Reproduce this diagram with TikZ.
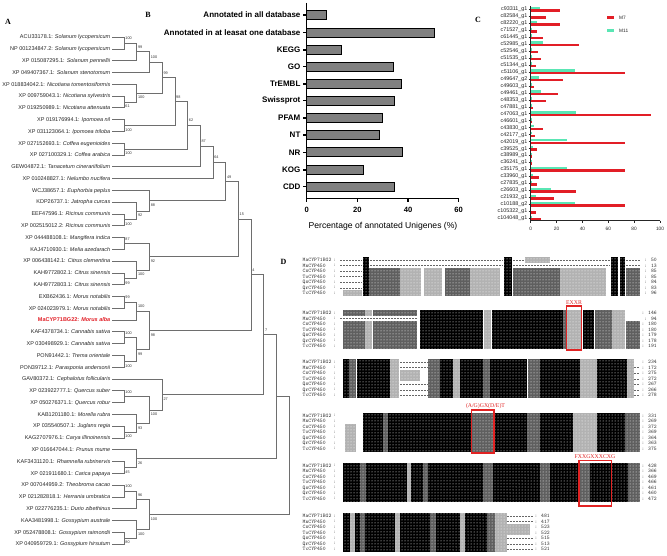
\documentclass[tikz,border=0pt]{standalone}
\usepackage{fontspec}
\setmainfont{Liberation Serif}
\setsansfont{Liberation Sans}
\usetikzlibrary{calc,patterns}
\definecolor{mred}{RGB}{226,30,38}
\definecolor{mmint}{RGB}{90,230,180}
\definecolor{treeg}{RGB}{110,110,110}
\definecolor{dg}{RGB}{95,95,95}
\definecolor{lg}{RGB}{178,178,178}
\definecolor{boxred}{RGB}{225,35,35}
\definecolor{barg}{RGB}{128,128,128}
\newcommand\clade[6]{%
  \coordinate (#1x) at (#2,0);
  \coordinate (#1m) at ($(#3)!0.5!(#4)$);
  \coordinate (#1) at (#1x |- #1m);
  \draw[br] (#3) -- (#3 -| #1x) -- (#4 -| #1x) -- (#4);
  \node[bs] (#1lab) at ([xshift=1.2pt,yshift=#6]#1) {#5};
}
\newcommand\sg[6]{\fill[#6] (#4,{#1+5.55*#2-2.8}) rectangle (#5,{#1+5.55*#3+2.8});}
\newcommand\dsh[4]{\draw[dashrow] (#3,{#1+5.55*#2}) -- (#4,{#1+5.55*#2});}
\newcommand\tex[2]{\fill[pattern=dots,pattern color=white] (340,{#1-2.8}) rectangle (#2,{#1+5.55*6+2.8});}
\newcommand\blk[9]{%
  \foreach \nm/\cn [count=\r from 0] in {MaCYP71BG2/#3,MnCYP450/#4,CsCYP450/#5,ToCYP450/#6,QsCYP450/#7,QrCYP450/#8,TcCYP450/#9}{
    \node[rowlab] (rl-#1-\r) at (302.5,{#1+5.55*\r}) {\nm};
    \node[rowlab] (rc-#1-\r) at (333,{#1+5.55*\r}) {:};
    \node[rowlab,anchor=east] (rn-#1-\r) at (#2,{#1+5.55*\r}) {: \cn};
  }}
\begin{document}
\begin{tikzpicture}[x=1pt,y=-1pt,
  leaf/.style={anchor=base east,inner sep=0pt,font=\sffamily\fontsize{5.5}{6}\selectfont,text=black!85},
  bs/.style={anchor=west,inner sep=0pt,font=\sffamily\fontsize{3.8}{4}\selectfont,text=black!80},
  br/.style={draw=treeg,line width=0.55pt},
  plab/.style={inner sep=0pt,font=\rmfamily\bfseries\fontsize{8}{9}\selectfont},
  catB/.style={anchor=east,inner sep=0pt,font=\sffamily\bfseries\fontsize{8}{9}\selectfont},
  axB/.style={line width=1.1pt},
  barB/.style={fill=barg,draw=black,line width=1pt},
  catC/.style={anchor=east,inner sep=0pt,font=\sffamily\fontsize{5.4}{6}\selectfont,text=black!85},
  axC/.style={line width=0.7pt,black!85},
  tickC/.style={inner sep=0pt,font=\sffamily\fontsize{4.8}{5}\selectfont,text=black!85},
  rowlab/.style={anchor=west,inner sep=0pt,font=\ttfamily\fontsize{5.4}{5.5}\selectfont,text=black!80},
  dashrow/.style={draw=black!60,line width=0.3pt,dash pattern=on 1.5pt off 1.5pt},
  mot/.style={inner sep=0pt,font=\rmfamily\fontsize{5.8}{6}\selectfont,text=boxred},
  motbox/.style={draw=boxred,line width=1.1pt}]
\path[use as bounding box] (0,0) rectangle (667,556);
\fill[white] (0,0) rectangle (667,556);

%================ Panel A
\node[plab] (pA) at (8,22) {A};
\foreach \acc/\sp [count=\i from 0] in {
ACU33178.1/Solanum lycopersicum,
NP 001234847.2/Solanum lycopersicum,
XP 015087295.1/Solanum pennellii,
XP 049407367.1/Solanum stenotomum,
XP 018834042.1/Nicotiana tomentosiformis,
XP 009759043.1/Nicotiana sylvestris,
XP 019250989.1/Nicotiana attenuata,
XP 019176994.1/Ipomoea nil,
XP 031123064.1/Ipomoea triloba,
XP 027152693.1/Coffea eugenioides,
XP 027100329.1/Coffea arabica,
GEW04872.1/Tanacetum cinerariifolium,
XP 010248827.1/Nelumbo nucifera,
WCJ38657.1/Euphorbia peplus,
KDP26737.1/Jatropha curcas,
EEF47596.1/Ricinus communis,
XP 002515012.2/Ricinus communis,
XP 044488108.1/Mangifera indica,
KAJ4710930.1/Melia azedarach,
XP 006438142.1/Citrus clementina,
KAH9772802.1/Citrus sinensis,
KAH9772803.1/Citrus sinensis,
EXB62436.1/Morus notabilis,
XP 024023979.1/Morus notabilis,
MaCYP71BG22/Morus alba,
KAF4378734.1/Cannabis sativa,
XP 030498929.1/Cannabis sativa,
PON91442.1/Trema orientale,
PON39712.1/Parasponia andersonii,
GAV80372.1/Cephalotus follicularis,
XP 023922777.1/Quercus suber,
XP 050276371.1/Quercus robur,
KAB1201180.1/Morella rubra,
XP 035540507.1/Juglans regia,
KAG2707976.1/Carya illinoinensis,
XP 016647044.1/Prunus mume,
KAF3431120.1/Rhamnella rubrinervis,
XP 021911680.1/Carica papaya,
XP 007044959.2/Theobroma cacao,
XP 021282818.1/Herrania umbratica,
XP 022776235.1/Durio zibethinus,
KAA3481998.1/Gossypium australe,
XP 052478808.1/Gossypium raimondii,
XP 040959729.1/Gossypium hirsutum}{
  \coordinate (L\i) at (112,{37+11.79*\i});
  \ifnum\i=24
    \node[leaf,text=mred,font=\sffamily\bfseries\fontsize{5.5}{6}\selectfont] (t\i) at (110.5,{37+11.79*\i+1.9}) {\acc: \textit{\sp}};
  \else
    \node[leaf] (t\i) at (110.5,{37+11.79*\i+1.9}) {\acc: \textit{\sp}};
  \fi
}
\def\U{4.6pt}\def\D{-4.6pt}
\clade{a}{124}{L0}{L1}{100}{\U}
\clade{b}{136.7}{a}{L2}{99}{\U}
\clade{sol}{149.4}{b}{L3}{100}{\U}
\clade{n56}{124}{L5}{L6}{61}{\D}
\clade{nic}{136.7}{L4}{n56}{100}{\D}
\clade{ca}{162.1}{sol}{nic}{99}{\U}
\clade{ipo}{124}{L7}{L8}{100}{\D}
\clade{cb}{174.8}{ca}{ipo}{98}{\U}
\clade{cof}{124}{L9}{L10}{100}{\D}
\clade{cc}{187.5}{cb}{cof}{62}{\U}
\clade{cd}{200.2}{cc}{L11}{87}{\U}
\clade{ce}{212.9}{cd}{L12}{64}{\U}
\clade{nab}{124}{L15}{L16}{100}{\D}
\clade{nac}{136.7}{L14}{nab}{92}{\D}
\clade{eup}{149.4}{L13}{nac}{88}{\D}
\clade{cf}{225.6}{ce}{eup}{49}{\U}
\clade{nba}{124}{L17}{L18}{87}{\U}
\clade{nbb}{124}{L20}{L21}{99}{\D}
\clade{nbc}{136.7}{L19}{nbb}{100}{\D}
\clade{sap}{149.4}{nba}{nbc}{92}{\D}
\clade{cg}{238.3}{cf}{sap}{15}{\U}
\clade{nca}{124}{L22}{L23}{99}{\U}
\clade{ncb}{136.7}{nca}{L24}{100}{\U}
\clade{ncc}{124}{L25}{L26}{100}{\U}
\clade{ncd}{124}{L27}{L28}{100}{\D}
\clade{nce}{136.7}{ncc}{ncd}{99}{\D}
\clade{ros}{149.4}{ncb}{nce}{98}{\D}
\clade{ch}{251}{cg}{ros}{4}{\U}
\clade{nda}{124}{L30}{L31}{100}{\U}
\clade{ndb}{124}{L33}{L34}{100}{\D}
\clade{ndc}{136.7}{L32}{ndb}{93}{\D}
\clade{fag}{149.4}{nda}{ndc}{100}{\D}
\clade{ci}{162.1}{L29}{fag}{27}{\D}
\clade{cj}{263.7}{ch}{ci}{7}{\U}
\clade{nea}{124}{L36}{L37}{45}{\D}
\clade{neb}{136.7}{L35}{nea}{26}{\D}
\clade{ck}{276.4}{cj}{neb}{}{\U}
\clade{nfa}{124}{L38}{L39}{100}{\U}
\clade{nfb}{136.7}{nfa}{L40}{96}{\U}
\clade{nfc}{124}{L42}{L43}{80}{\D}
\clade{nfd}{136.7}{L41}{nfc}{100}{\D}
\clade{mal}{149.4}{nfb}{nfd}{100}{\D}
\clade{root}{289.1}{ck}{mal}{}{\U}

%================ Panel B
\node[plab] (pB) at (148,15) {B};
\draw[axB] (306.7,3) -- (306.7,198.3) -- (458.7,198.3);
\foreach \lab/\v/\yy [count=\k] in {
Annotated in all database/7.8/15,
Annotated in at leasat one database/50.5/32.7,
KEGG/13.8/50,
GO/34.2/66.7,
TrEMBL/37.3/84,
Swissprot/34.6/100.7,
PFAM/29.8/118,
NT/28.6/135,
NR/37.8/152.3,
KOG/22.4/170,
CDD/34.6/186.7}{
  \node[catB] (cb\k) at (300.6,\yy) {\lab};
  \draw[axB] (303,\yy) -- (306.7,\yy);
  \draw[barB] (306.7,{\yy-4.6}) rectangle ({306.7+2.533*\v},{\yy+4.6});
}
\foreach \t [count=\j from 0] in {0,20,40,60}{
  \draw[axB] ({306.7+2.533*\t},198.3) -- ++(0,3.4);
  \node[inner sep=0pt,font=\sffamily\bfseries\fontsize{7.6}{8}\selectfont] (tb\j) at ({306.7+2.533*\t},210) {\t};
}
\node[inner sep=0pt,font=\sffamily\fontsize{8.6}{9}\selectfont] (xtB) at (383,226) {Percentage of annotated Unigenes (\%)};

%================ Panel C
\node[plab] (pC) at (478,20) {C};
\foreach \lab/\a/\b [count=\k from 0] in {
c93311\_g1/7.2/22.7, c82584\_g1/0/11.6, c82220\_g1/5.2/22.7, c71527\_g1/0.5/4.6,
c61445\_g1/0.8/9.8, c52985\_g1/9.3/37, c52546\_g1/0.5/5.9, c51535\_g1/0.5/7.7,
c51344\_g1/0.5/3.9, c51106\_g1/34.3/73, c49647\_g2/6.4/24.7, c49603\_g1/0.5/2.3,
c49461\_g1/8/21.4, c48353\_g1/0.5/11.6, c47881\_g1/0.5/2, c47063\_g1/34.8/92.8,
c46601\_g1/0.5/1, c43830\_g1/2.6/9.8, c42177\_g1/1.3/3.4, c42019\_g1/28.4/73,
c39525\_g1/2/5.2, c38989\_g1/0.5/1.3, c36241\_g1/0.3/0.8, c35175\_g1/28.4/73,
c33960\_g1/1.5/6.7, c27835\_g1/0.5/5.2, c26603\_g1/15.7/34.8, c21932\_g1/3.9/17.8,
c10188\_g2/34.3/73, c105322\_g1/0/3.9, c104048\_g1/0.3/8}{
  \node[catC] (cc\k) at (527.6,{9.3+6.97*\k}) {\lab};
  \draw[axC] (528.6,{9.3+6.97*\k}) -- (530.7,{9.3+6.97*\k});
  \fill[mmint] (530.7,{9.3+6.97*\k-2.7}) rectangle ({530.7+1.293*\a},{9.3+6.97*\k-0.3});
  \fill[mred] (530.7,{9.3+6.97*\k-0.2}) rectangle ({530.7+1.293*\b},{9.3+6.97*\k+2.3});
}
\draw[axC] (530.7,6) -- (530.7,220.7) -- (660,220.7);
\foreach \t [count=\j from 0] in {0,20,40,60,80,100}{
  \draw[axC] ({530.7+1.293*\t},220.7) -- ++(0,2);
  \node[tickC] (tc\j) at ({530.7+1.293*\t},229.3) {\t};
}
\fill[mred] (606.5,16) rectangle (614,19);
\node[tickC,anchor=west] (lgM7) at (619,17.5) {M7};
\fill[mmint] (606.5,29.3) rectangle (614,32.3);
\node[tickC,anchor=west] (lgM11) at (619,30.8) {M11};

%================ Panel D
\node[plab] (pD) at (283.5,262) {D};
% block 1
\sg{260}{0}{6}{363}{369}{black}
\sg{260}{2}{6}{369}{400}{dg}
\sg{260}{2}{6}{400}{421}{lg}
\sg{260}{2}{6}{424}{442}{lg}
\sg{260}{2}{6}{445}{470}{dg}
\sg{260}{2}{6}{470}{500}{lg}
\sg{260}{0}{6}{504}{512}{black}
\sg{260}{2}{6}{513}{560}{dg}
\sg{260}{0}{0}{525}{550}{lg}
\sg{260}{2}{6}{560}{606}{lg}
\sg{260}{0}{6}{611}{618}{black}
\sg{260}{0}{6}{620}{625}{black}
\sg{260}{2}{6}{626}{640}{dg}
\sg{260}{6}{6}{343}{362}{lg}
\tex{260}{640}
\foreach \r in {0,1}{\dsh{260}{\r}{340}{362}\dsh{260}{\r}{370}{503}\dsh{260}{\r}{626}{640}}
\dsh{260}{0}{513}{524}\dsh{260}{0}{551}{610}\dsh{260}{1}{513}{610}
\foreach \r in {2,3,4,5}{\dsh{260}{\r}{340}{362}}
\blk{260}{657}{50}{13}{85}{85}{84}{83}{96}
% block 2
\sg{313}{0}{0}{343}{365}{dg}\sg{313}{2}{6}{343}{365}{dg}
\sg{313}{0}{0}{365}{372}{lg}\sg{313}{2}{6}{365}{372}{lg}
\sg{313}{0}{0}{373}{417}{dg}\sg{313}{2}{6}{373}{417}{dg}
\sg{313}{0}{6}{420}{483}{black}
\sg{313}{0}{6}{484}{491}{lg}
\sg{313}{0}{6}{492}{563}{black}
\sg{313}{0}{6}{563}{567}{dg}
\sg{313}{0}{6}{567}{582}{lg}
\sg{313}{0}{6}{583}{594}{black}
\sg{313}{0}{6}{595}{612}{dg}
\sg{313}{0}{6}{612}{625}{lg}
\sg{313}{2}{6}{626}{640}{dg}
\tex{313}{640}
\dsh{313}{1}{340}{418}
\blk{313}{657}{146}{94}{180}{180}{179}{178}{191}
% block 3
\sg{362}{0}{6}{343}{349}{black}
\sg{362}{0}{6}{349}{356}{dg}
\sg{362}{0}{6}{357}{390}{black}
\sg{362}{0}{6}{390}{399}{lg}
\sg{362}{2}{3}{400}{420}{lg}
\sg{362}{0}{6}{428}{440}{dg}
\sg{362}{0}{6}{440}{453}{black}
\sg{362}{0}{6}{453}{460}{lg}
\sg{362}{0}{6}{460}{483}{black}
\sg{362}{0}{6}{483}{490}{dg}
\sg{362}{0}{6}{490}{527}{black}
\sg{362}{0}{6}{528}{540}{dg}
\sg{362}{0}{6}{540}{580}{black}
\sg{362}{0}{6}{580}{597}{lg}
\sg{362}{0}{6}{597}{627}{black}
\sg{362}{0}{6}{627}{634}{lg}
\tex{362}{640}
\foreach \r in {0,1,4,5,6}{\dsh{362}{\r}{400}{428}}
\foreach \r in {1,2,3,4,5,6}{\dsh{362}{\r}{634}{640}}
\blk{362}{657}{234}{172}{275}{272}{267}{266}{278}
% block 4
\sg{415.5}{2}{6}{345}{356}{lg}
\sg{415.5}{0}{6}{363}{383}{black}
\sg{415.5}{0}{6}{383}{388}{dg}
\sg{415.5}{0}{6}{388}{472}{black}
\sg{415.5}{0}{6}{472}{494}{dg}
\sg{415.5}{0}{6}{495}{527}{black}
\sg{415.5}{0}{6}{527}{540}{dg}
\sg{415.5}{0}{6}{540}{573}{black}
\sg{415.5}{0}{6}{573}{597}{lg}
\sg{415.5}{0}{6}{597}{625}{black}
\sg{415.5}{0}{6}{625}{640}{dg}
\tex{415.5}{640}
\blk{415.5}{657}{331}{269}{372}{369}{364}{363}{375}
% block 5
\sg{465.5}{0}{6}{343}{360}{black}
\sg{465.5}{0}{6}{360}{366}{dg}
\sg{465.5}{0}{6}{366}{407}{black}
\sg{465.5}{0}{6}{407}{411}{lg}
\sg{465.5}{0}{6}{411}{423}{black}
\sg{465.5}{0}{6}{423}{428}{dg}
\sg{465.5}{0}{6}{428}{483}{black}
\sg{465.5}{0}{6}{483}{493}{dg}
\sg{465.5}{0}{6}{493}{540}{black}
\sg{465.5}{0}{6}{540}{550}{dg}
\sg{465.5}{0}{6}{550}{578}{black}
\sg{465.5}{0}{6}{579}{590}{dg}
\sg{465.5}{0}{6}{590}{628}{black}
\sg{465.5}{0}{6}{628}{640}{dg}
\tex{465.5}{640}
\blk{465.5}{657}{428}{366}{469}{466}{461}{460}{472}
% block 6
\sg{516}{0}{6}{343}{350}{black}
\sg{516}{0}{6}{350}{355}{lg}
\sg{516}{0}{6}{355}{360}{black}
\sg{516}{0}{6}{360}{365}{dg}
\sg{516}{0}{6}{365}{395}{black}
\sg{516}{0}{6}{395}{400}{lg}
\sg{516}{0}{6}{400}{430}{black}
\sg{516}{0}{6}{430}{436}{dg}
\sg{516}{0}{6}{436}{460}{black}
\sg{516}{0}{6}{460}{465}{lg}
\sg{516}{0}{6}{465}{487}{black}
\sg{516}{0}{6}{487}{495}{dg}
\sg{516}{0}{6}{495}{507}{lg}
\sg{516}{2}{3}{507}{530}{lg}
\tex{516}{533}
\foreach \r in {0,1,4,5,6}{\dsh{516}{\r}{507}{533}}
\blk{516}{550}{481}{417}{523}{522}{515}{513}{521}
% motifs
\node[mot] (mE) at (574,302.5) {EXXR};
\draw[motbox] (566.7,306) rectangle (581.7,350);
\node[mot] (mA) at (485.5,406) {(A/G)GX(D/E)T};
\draw[motbox] (471.7,410) rectangle (494,453);
\node[mot] (mF) at (595,456.5) {FXXGXXXCXG};
\draw[motbox] (579,460.5) rectangle (611.7,506);
\end{tikzpicture}
\end{document}
